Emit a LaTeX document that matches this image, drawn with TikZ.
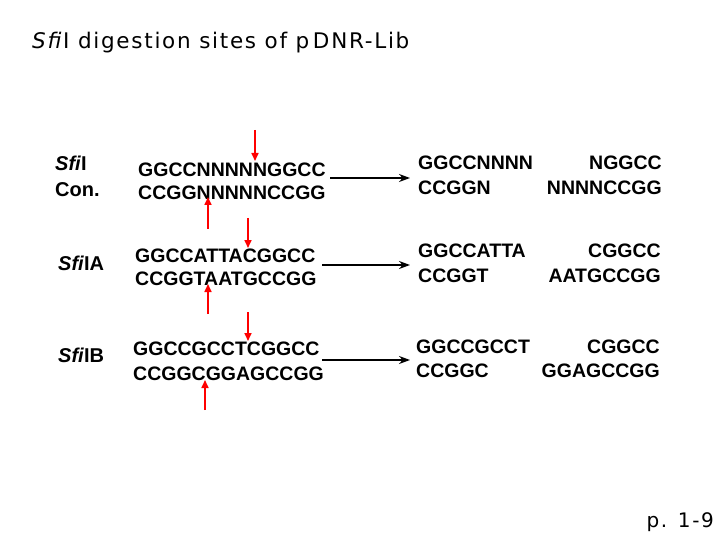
\documentclass[tikz,border=0pt]{standalone}
\usepackage{fontspec}
\setmainfont{Liberation Sans}
\newfontfamily\ttl[LetterSpace=8]{DejaVu Sans}
\usetikzlibrary{arrows.meta}
\begin{document}
\begin{tikzpicture}[x=1pt,y=-1pt,
 seq/.style={anchor=west,inner sep=0,font=\fontsize{19.5}{19.5}\selectfont\bfseries},
 lab/.style={anchor=west,inner sep=0,font=\fontsize{20}{20}\selectfont\bfseries},
 red/.style={draw=red,line width=1.6pt,-{Triangle[length=8pt,width=7pt]}},
 blk/.style={draw=black,line width=1.2pt,-{Stealth[length=11pt,width=8pt]}}]
\useasboundingbox (0,0) rectangle (720,540);
\node[anchor=west,inner sep=0,font=\ttl\fontsize{21.5}{21.5}\selectfont] (t) at (32,43) {\textit{Sfi}I digestion sites of p\,DNR-Lib};
\node[anchor=east,inner sep=0,font=\ttl\fontsize{20}{20}\selectfont] (p) at (714,522) {p. 1-9};
% row 1
\node[lab] (l1) at (55,163) {\textit{Sfi}I};
\node[lab] (l1b) at (55,190) {Con.};
\node[seq] (s1a) at (138,170) {GGCCNNNNNGGCC};
\node[seq] (s1b) at (138,193) {CCGGNNNNNCCGG};
\coordinate (d1s) at (255,130); \coordinate (d1e) at (255,161);
\coordinate (u1s) at (208,229); \coordinate (u1e) at (208,197);
\draw[red] (d1s) -- (d1e); \draw[red] (u1s) -- (u1e);
\coordinate (b1s) at (330,178); \coordinate (b1e) at (410,178);
\draw[blk] (b1s) -- (b1e);
\node[seq] (p1a) at (418,163) {GGCCNNNN};
\node[seq,anchor=east] (p1b) at (662,163) {NGGCC};
\node[seq] (p1c) at (418,188) {CCGGN};
\node[seq,anchor=east] (p1d) at (662,188) {NNNNCCGG};
% row 2
\node[lab] (l2) at (58,263) {\textit{Sfi}IA};
\node[seq] (s2a) at (135,256) {GGCCATTACGGCC};
\node[seq] (s2b) at (135,279) {CCGGTAATGCCGG};
\coordinate (d2s) at (248,218); \coordinate (d2e) at (248,248);
\coordinate (u2s) at (208,314); \coordinate (u2e) at (208,284);
\draw[red] (d2s) -- (d2e); \draw[red] (u2s) -- (u2e);
\coordinate (b2s) at (322,265); \coordinate (b2e) at (410,265);
\draw[blk] (b2s) -- (b2e);
\node[seq] (p2a) at (418,251) {GGCCATTA};
\node[seq,anchor=east] (p2b) at (661,251) {CGGCC};
\node[seq] (p2c) at (418,276) {CCGGT};
\node[seq,anchor=east] (p2d) at (661,276) {AATGCCGG};
% row 3
\node[lab] (l3) at (58,355) {\textit{Sfi}IB};
\node[seq] (s3a) at (133,349) {GGCCGCCTCGGCC};
\node[seq] (s3b) at (133,374) {CCGGCGGAGCCGG};
\coordinate (d3s) at (248,312); \coordinate (d3e) at (248,341);
\coordinate (u3s) at (205,410); \coordinate (u3e) at (205,380);
\draw[red] (d3s) -- (d3e); \draw[red] (u3s) -- (u3e);
\coordinate (b3s) at (322,360); \coordinate (b3e) at (410,360);
\draw[blk] (b3s) -- (b3e);
\node[seq] (p3a) at (416,347) {GGCCGCCT};
\node[seq,anchor=east] (p3b) at (660,347) {CGGCC};
\node[seq] (p3c) at (416,371) {CCGGC};
\node[seq,anchor=east] (p3d) at (660,371) {GGAGCCGG};
\end{tikzpicture}
\end{document}
